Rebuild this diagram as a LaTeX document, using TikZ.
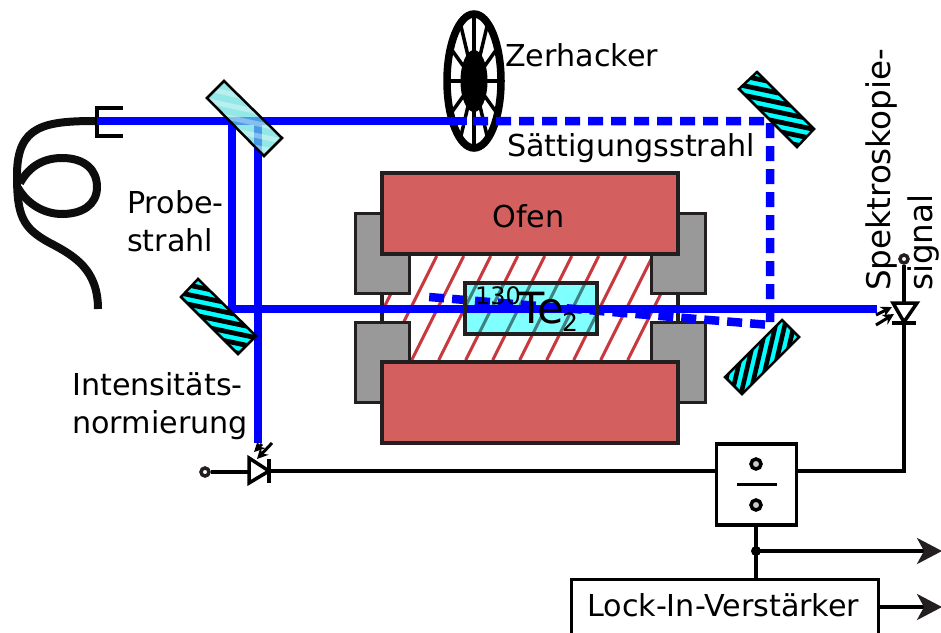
\documentclass[tikz,border=0pt]{standalone}
\usepackage{fontspec}
\setmainfont{DejaVu Sans}
\usetikzlibrary{arrows.meta}
\definecolor{ink}{HTML}{231F20}
\definecolor{oven}{HTML}{D45F5F}
\definecolor{block}{HTML}{999999}
\definecolor{glass}{HTML}{80FFFF}
\definecolor{hatchred}{HTML}{C8383C}
\definecolor{mcyan}{HTML}{00FFFF}
\definecolor{scyan}{HTML}{66DDDD}
\definecolor{ablue}{HTML}{0000FF}
\tikzset{
  beam/.style={draw=ablue,line width=8.5pt},
  dashbeam/.style={beam,dash pattern=on 15pt off 8pt},
  ovenbox/.style={draw=ink,fill=oven,line width=4pt,inner sep=0pt,minimum width=296pt,minimum height=81pt},
  blockbox/.style={draw=ink,fill=block,line width=3.5pt,inner sep=0pt,minimum width=54pt,minimum height=80pt},
  wire/.style={draw=black,line width=3.5pt},
  label/.style={inner sep=0pt,anchor=base west,font=\fontsize{30.2}{30.2}\selectfont},
  sig/.style={wire,-{Stealth[length=25pt,width=26pt,inset=7pt,color=ink]},shorten >=-1pt},
  ray/.style={draw=black,line width=3pt,-{Stealth[length=11pt,width=11pt]}},
  fibre/.style={draw=black!95,line width=8pt},
  port/.style={circle,draw=ink,line width=3.5pt,inner sep=0pt,minimum size=8pt},
  ratio/.style={circle,draw=black,fill=block!50,line width=3.5pt,inner sep=0pt,minimum size=10pt}
}
\begin{document}
\begin{tikzpicture}[x=1pt,y=-1pt]
\useasboundingbox (0,0) rectangle (941,632);
% fibre
\draw[fibre] (97,121) .. controls (45,121) and (17,125) .. (17,175) .. controls (17,215) and (22,228) .. (50,243) .. controls (75,256) and (98,270) .. (98,309);
\draw[fibre] (20,183) .. controls (30,165) and (45,158) .. (62,158) .. controls (85,158) and (97,170) .. (97,187) .. controls (97,205) and (82,214) .. (62,214) .. controls (45,214) and (28,205) .. (18,188);
\draw[black,line width=3.5pt] (123,108) -- (97,108) -- (97,136) -- (123,136);
% chopper
\begin{scope}[shift={(474,81)}]
\foreach \a in {0,30,...,330}
  \draw[black,line width=3.5pt] (0,0) -- ({28*cos(\a)},{68*sin(\a)});
\draw[black,line width=7.5pt] (0,0) ellipse [x radius=27,y radius=67];
\fill[black] (0,0) ellipse [x radius=13.5,y radius=31];
\end{scope}
% oven interior
\fill[white] (382,254) rectangle (678,362);
\begin{scope}
\clip (382,256) rectangle (678,360);
\foreach \k in {-1,...,10}
  \draw[hatchred,line width=3pt] ({409.7+27*\k},256) -- ({357.7+27*\k},360);
\end{scope}
\draw[ink,line width=3.5pt] (382,294) -- (382,322) (678,294) -- (678,322);
% heat blocks
\node[blockbox] (bTL) at (382.5,253.5) {};
\node[blockbox] (bTR) at (678.5,253.5) {};
\node[blockbox] (bBL) at (382.5,362.5) {};
\node[blockbox] (bBR) at (678.5,362.5) {};
\node[ovenbox] (top) at (530,213.5) {};
\node[ovenbox] (bottom) at (530,402.5) {};
\node[inner sep=0pt,font=\fontsize{30.2}{30.2}\selectfont] at (528.5,216) {Ofen};
% cell
\node[fill=glass,inner sep=0pt,minimum width=132pt,minimum height=51pt] (cell) at (530.5,308) {};
\begin{scope}
\clip (465,283) rectangle (596,333);
\foreach \k in {-1,...,10}
  \draw[black!50!glass,line width=3pt] ({409.7+27*\k},256) -- ({357.7+27*\k},360);
\end{scope}
% beams
\coordinate (fibreEnd) at (97,121);
\coordinate (chop) at (467,121);
\coordinate (split1) at (232,121);
\coordinate (split2) at (258,121);
\coordinate (probeTurn) at (232,309);
\coordinate (normEnd) at (258,443);
\coordinate (specEnd) at (877,309);
\coordinate (m1) at (770,121);
\coordinate (m2) at (770,325);
\coordinate (satEnd) at (429,297);
\draw[beam] (fibreEnd) -- (chop);
\draw[beam] (split1) -- (probeTurn);
\draw[beam] (split2) -- (normEnd);
\draw[beam] (probeTurn) ++(-4,0) -- (specEnd);
\draw[dashbeam] (chop) ++(6,0) -- (m1) -- (m2) -- (satEnd);
\node[draw=ink,line width=4pt,inner sep=0pt,minimum width=132pt,minimum height=51pt] at (530.5,308) {};
% splitter
\begin{scope}
\clip (224,81) -- (282,138) -- (264,156) -- (207,98) -- cycle;
\fill[scyan,opacity=.7] (200,75) rectangle (290,160);
\foreach \k in {0,...,8}
  \draw[white,opacity=.35,line width=5pt] (195,{{62+12*\k}}) -- (295,{{84+12*\k}});
\end{scope}
\draw[black,line width=2.5pt,line join=miter] (224,81) -- (282,138) -- (264,156) -- (207,98) -- cycle;
% mirror left
\begin{scope}
\clip (198,279) -- (256,336) -- (238,354) -- (181,297) -- cycle;
\fill[mcyan] (175,275) rectangle (260,358);
\foreach \k in {0,...,12}
  \draw[black,line width=4.8pt] (170,{{262+9.6*\k}}) -- (265,{{282+9.6*\k}});
\end{scope}
\draw[black,line width=2.5pt] (198,279) -- (256,336) -- (238,354) -- (181,297) -- cycle;
% mirror top right
\begin{scope}
\clip (757,72) -- (814,129) -- (797,147) -- (739,89) -- cycle;
\fill[mcyan] (735,68) rectangle (818,150);
\foreach \k in {0,...,12}
  \draw[black,line width=4.8pt] (730,{{54+9.6*\k}}) -- (820,{{73+9.6*\k}});
\end{scope}
\draw[black,line width=2.5pt] (757,72) -- (814,129) -- (797,147) -- (739,89) -- cycle;
% mirror bottom right
\begin{scope}
\clip (782,320) -- (799,337) -- (742,394) -- (725,377) -- cycle;
\fill[mcyan] (720,315) rectangle (803,398);
\foreach \k in {0,...,11}
  \draw[black,line width=4.6pt] ({712+9.2*\k},400) -- ({732+9.2*\k},315);
\end{scope}
\draw[black,line width=2.5pt] (782,320) -- (799,337) -- (742,394) -- (725,377) -- cycle;
% text
\node[label] at (505,66) {Zerhacker};
\node[label] at (507,156) {Sättigungsstrahl};
\node[label] at (127,213) {Probe-};
\node[label] at (127,251) {strahl};
\node[label] at (72,395) {Intensitäts-};
\node[label] at (72,433) {normierung};
\node[label,rotate=90,font=\fontsize{32.6}{32.6}\selectfont] at (890,291) {Spektroskopie-};
\node[label,rotate=90,font=\fontsize{32.6}{32.6}\selectfont] at (932,291) {signal};
\node[label,font=\fontsize{24}{24}\selectfont] at (475,304) {130};
\node[label,font=\fontsize{43}{43}\selectfont] at (518,323) {Te};
\node[label,font=\fontsize{25}{25}\selectfont] at (562,331) {2};
% detector left
\node[port] (inL) at (205,472) {};
\coordinate (dA) at (249,472);
\coordinate (dK) at (269,471);
\draw[black,line width=3.5pt,line join=miter] (249,458) -- (249,483) -- (269,471) -- cycle;
\draw[black,line width=3.5pt] (269,459) -- (269,483);
\draw[wire] (inL) -- (dA);
\draw[ray] (272,443) -- (257,459);
\draw[ray] (262,444) -- (254,452);
% detector right
\node[port] (outR) at (904,259) {};
\coordinate (dT) at (904,303);
\coordinate (dB) at (904,323);
\draw[black,line width=3.5pt,line join=miter] (893,303) -- (917,303) -- (904,322) -- cycle;
\draw[black,line width=3.5pt] (892,323) -- (916,323);
\draw[wire] (outR) -- (dT);
\draw[ray] (876,325) -- (894,314);
\draw[ray] (876,315) -- (892,307);
% divider
\node[draw=black,fill=white,line width=3.5pt,minimum width=80pt,minimum height=81pt,inner sep=0pt] (div) at (756.5,484.5) {};
\fill[black] (737,482.5) rectangle (777,486);
\node[ratio] (numer) at (756,464) {};
\node[ratio] (denom) at (756,505) {};
\node[draw=black,fill=white,line width=3pt,inner sep=0pt,anchor=north west,minimum width=307pt,minimum height=70pt] (lock) at (570,578) {};
\node[label] at (587,616) {Lock-In-Verstärker};
% wires
\coordinate (wy) at (0,471);
\draw[wire] (dK) -- (div.west |- wy);
\draw[wire,line join=miter] (dB) |- (div.east |- wy);
\coordinate (junc) at (756,551);
\coordinate (outA) at (941,551);
\coordinate (outB) at (941,607);
\draw[wire,line width=4pt] (div.south -| junc) -- (lock.north -| junc);
\fill[black] (junc) circle (5pt);
\draw[sig] (junc) -- (outA);
\draw[sig] (lock.east |- outB) -- (outB);
\end{tikzpicture}
\end{document}
